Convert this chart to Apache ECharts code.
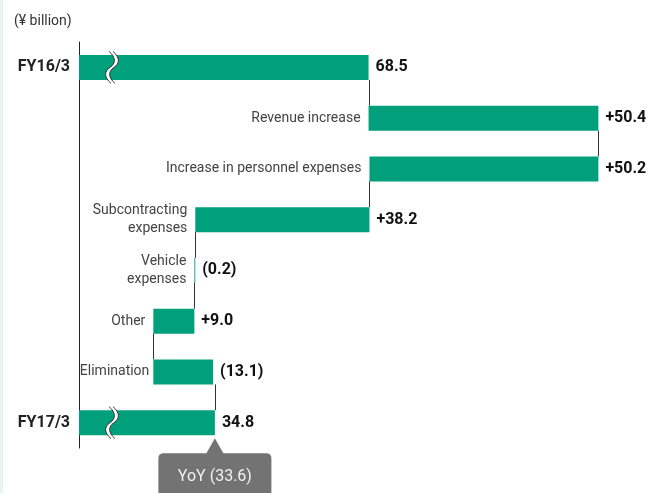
<!DOCTYPE html>
<html>
<head>
<meta charset="utf-8">
<script src="https://cdn.jsdelivr.net/npm/echarts@6/dist/echarts.min.js"></script>
<style>
html,body{margin:0;padding:0;background:#fff;}
#chart{width:653px;height:493px;}
</style>
</head>
<body>
<div id="chart"></div>
<script>
// ---- data ----
var categories = ['FY16/3', 'Revenue increase', 'Increase in personnel expenses', 'Subcontracting\nexpenses', 'Vehicle\nexpenses', 'Other', 'Elimination', 'FY17/3'];
var startValue = 68.5;
var endValue = 34.8;
var deltas = [50.4, -50.2, -38.2, -0.2, -9.0, 13.1];   // effect of each step on the total
var valueLabels = ['68.5', '+50.4', '+50.2', '+38.2', '(0.2)', '+9.0', '(13.1)', '34.8'];
var yoyLabel = 'YoY (33.6)';
var breakAt = 11.8;

// ---- build waterfall ----
var bases = [0], lengths = [startValue], levels = [startValue];
var running = startValue;
deltas.forEach(function (d) {
  var next = running + d;
  bases.push(Math.min(running, next));
  lengths.push(Math.abs(d));
  running = next;
  levels.push(running);
});
bases.push(0); lengths.push(endValue);
levels[levels.length - 1] = endValue;

var connectors = [];
for (var i = 0; i < categories.length - 1; i++) {
  connectors.push([levels[i], i, i + 1]);
}

var baseItems = bases.map(function (v, idx) {
  var item = {value: v};
  if (categories[idx] === 'Elimination') item.label = {distance: 4};
  return item;
});

var GREEN = '#00A07D';
var FONT = 'Roboto';
var chart = echarts.init(document.getElementById('chart'));
var BAR_H = 25;

chart.setOption({
  animation: false,
  backgroundColor: '#ffffff',
  textStyle: {fontFamily: FONT},
  title: {
    text: '(¥ billion)', left: 9, top: 9,
    textStyle: {fontSize: 14, fontWeight: 'normal', color: '#333', fontFamily: FONT}
  },
  graphic: [{type: 'rect', left: 0, top: 0, shape: {width: 3, height: 493}, style: {fill: '#e6f4f0'}, silent: true}],
  grid: {left: 79, right: 4, top: 42, bottom: 45},
  xAxis: {
    type: 'value', min: 5, max: 130,
    show: false
  },
  yAxis: {
    type: 'category', data: categories, inverse: true,
    axisLine: {show: true, lineStyle: {color: '#222', width: 1}},
    axisTick: {show: false},
    axisLabel: {
      margin: 9, fontSize: 16, fontWeight: 'bold', color: '#222', fontFamily: FONT,
      formatter: function (v, idx) { return (idx === 0 || idx === categories.length - 1) ? v : ''; }
    }
  },
  series: [
    {
      type: 'bar', stack: 'wf', barWidth: BAR_H,
      itemStyle: {color: 'transparent'},
      data: baseItems,
      label: {
        show: true, position: 'insideRight', distance: 8,
        fontSize: 14, color: '#444', align: 'right', lineHeight: 18, fontFamily: FONT,
        padding: [3, 0, 0, 0],
        formatter: function (p) {
          return (p.dataIndex === 0 || p.dataIndex === categories.length - 1) ? '' : categories[p.dataIndex];
        }
      },
      emphasis: {disabled: true}, silent: true
    },
    {
      type: 'bar', stack: 'wf', barWidth: BAR_H,
      itemStyle: {color: GREEN},
      data: lengths,
      label: {
        show: true, position: 'right', distance: 7,
        fontSize: 16, fontWeight: 'bold', color: '#111', fontFamily: FONT,
        formatter: function (p) { return valueLabels[p.dataIndex]; }
      },
      emphasis: {disabled: true}, silent: true
    },
    {
      type: 'custom', z: 4, silent: true,
      data: connectors,
      encode: {x: 0, y: 1},
      renderItem: function (params, api) {
        var a = api.coord([api.value(0), api.value(1)]);
        var b = api.coord([api.value(0), api.value(2)]);
        var x = Math.round(a[0]) + 0.5;
        return {
          type: 'line',
          shape: {x1: x, y1: a[1] + BAR_H / 2, x2: x, y2: b[1] - BAR_H / 2},
          style: {stroke: '#333', lineWidth: 1}
        };
      }
    },
    {
      type: 'custom', z: 6, silent: true,
      data: [[breakAt, 0], [breakAt, categories.length - 1]],
      encode: {x: 0, y: 1},
      renderItem: function (params, api) {
        var c = api.coord([api.value(0), api.value(1)]);
        var cx = c[0], cy = c[1], g = 4;
        function curve(dx) {
          return 'M' + (cx - 1 + dx) + ' ' + (cy - 16) +
            ' C' + (cx + 6 + dx) + ' ' + (cy - 10) + ' ' + (cx + 6 + dx) + ' ' + (cy - 4) + ' ' + (cx + dx) + ' ' + cy +
            ' C' + (cx - 6 + dx) + ' ' + (cy + 4) + ' ' + (cx - 6 + dx) + ' ' + (cy + 10) + ' ' + (cx + 1 + dx) + ' ' + (cy + 16);
        }
        var fillPath = 'M' + (cx - 1) + ' ' + (cy - 16) +
          ' C' + (cx + 6) + ' ' + (cy - 10) + ' ' + (cx + 6) + ' ' + (cy - 4) + ' ' + cx + ' ' + cy +
          ' C' + (cx - 6) + ' ' + (cy + 4) + ' ' + (cx - 6) + ' ' + (cy + 10) + ' ' + (cx + 1) + ' ' + (cy + 16) +
          ' L' + (cx + 1 + g) + ' ' + (cy + 16) +
          ' C' + (cx - 6 + g) + ' ' + (cy + 10) + ' ' + (cx - 6 + g) + ' ' + (cy + 4) + ' ' + (cx + g) + ' ' + cy +
          ' C' + (cx + 6 + g) + ' ' + (cy - 4) + ' ' + (cx + 6 + g) + ' ' + (cy - 10) + ' ' + (cx - 1 + g) + ' ' + (cy - 16) + ' Z';
        return {
          type: 'group',
          children: [
            {type: 'path', shape: {pathData: fillPath}, style: {fill: '#fff', stroke: null}},
            {type: 'path', shape: {pathData: curve(0)}, style: {fill: null, stroke: '#333', lineWidth: 1}},
            {type: 'path', shape: {pathData: curve(g)}, style: {fill: null, stroke: '#333', lineWidth: 1}}
          ]
        };
      }
    },
    {
      type: 'custom', z: 6, silent: true,
      data: [[endValue, categories.length - 1]],
      encode: {x: 0, y: 1},
      renderItem: function (params, api) {
        var c = api.coord([api.value(0), api.value(1)]);
        var tx = c[0], ty = c[1] + BAR_H / 2 + 3;
        var top = ty + 15, w = 113, r = 5, left = tx - w / 2;
        return {
          type: 'group',
          children: [
            {type: 'rect', shape: {x: left, y: top, width: w, height: 60, r: r}, style: {fill: '#737373'}},
            {type: 'polygon', shape: {points: [[tx, ty], [tx - 9, top + 1], [tx + 9, top + 1]]}, style: {fill: '#737373'}},
            {type: 'text', style: {text: yoyLabel, x: tx, y: top + 24, align: 'center', verticalAlign: 'middle',
              fill: '#f2f2f2', fontSize: 16, fontFamily: FONT}}
          ]
        };
      }
    }
  ]
});
</script>
</body>
</html>
